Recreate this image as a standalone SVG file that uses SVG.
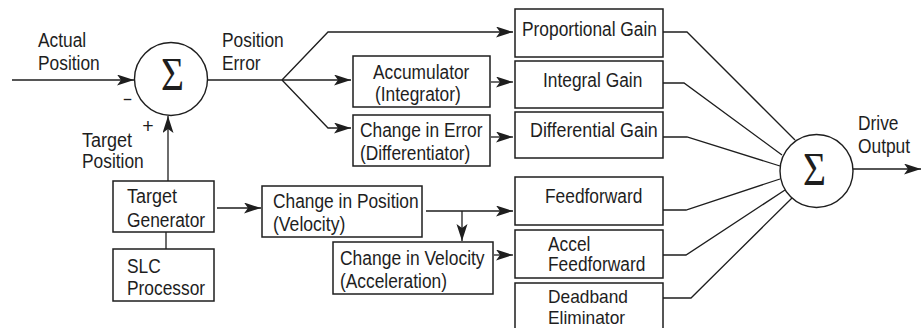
<svg xmlns="http://www.w3.org/2000/svg" width="922" height="328" viewBox="0 0 922 328">
<style>
  .bg { fill: #ffffff; }
  .box { fill: #ffffff; stroke: #1e1e1e; stroke-width: 1.5; }
  .sum { fill: #ffffff; stroke: #1e1e1e; stroke-width: 1.4; }
  .ln { fill: none; stroke: #1e1e1e; stroke-width: 1.3; }
  .arr { fill: none; stroke: #1e1e1e; stroke-width: 1.3; marker-end: url(#ah); }
  text { font-family: "Liberation Sans", Arial, sans-serif; font-size: 19.5px; fill: #1e1e1e; }
  .sm { font-size: 19px; }
  .sig { font-family: "Liberation Serif", "Times New Roman", serif; font-size: 46px; }
</style>
<defs>
  <marker id="ah" markerUnits="userSpaceOnUse" markerWidth="18" markerHeight="12" refX="17" refY="5.5" orient="auto">
    <path d="M0,0 L17,5.5 L0,11 L4,5.5 z" fill="#1e1e1e"/>
  </marker>
</defs>
<rect class="bg" x="0" y="0" width="922" height="328"/>

<g id="connectors">
  <path class="arr" d="M12,80 H134"/>
  <path class="ln" d="M207.5,80 H282"/>
  <path class="arr" d="M282,80 L328,32 H513"/>
  <path class="arr" d="M282,80 H351"/>
  <path class="arr" d="M282,80 L328,128 H351"/>
  <path class="arr" d="M491,82 H513"/>
  <path class="arr" d="M491,137 H513"/>
  <path class="arr" d="M168,181 V116"/>
  <path class="ln" d="M166,232 V249"/>
  <path class="arr" d="M217,208 H261"/>
  <path class="arr" d="M426,211 H513"/>
  <path class="arr" d="M462,211 V241"/>
  <path class="arr" d="M494,255 H513"/>
  <path class="ln" d="M663,32 H687 L795,140"/>
  <path class="ln" d="M663,83 H684 L782,155"/>
  <path class="ln" d="M663,137 H687 L780,166"/>
  <path class="ln" d="M663,210 H686 L780,179"/>
  <path class="ln" d="M663,255 H686 L785,190"/>
  <path class="ln" d="M663,298 H691 L792,198"/>
  <path class="arr" d="M853,169 H921"/>
</g>

<g id="label-actual-position">
  <text x="38" y="47" textLength="48.2" lengthAdjust="spacingAndGlyphs">Actual</text>
  <text x="38" y="70" textLength="61.7" lengthAdjust="spacingAndGlyphs">Position</text>
</g>
<g id="label-position-error">
  <text x="222" y="47" textLength="61.7" lengthAdjust="spacingAndGlyphs">Position</text>
  <text x="222" y="70" textLength="38.6" lengthAdjust="spacingAndGlyphs">Error</text>
</g>
<g id="label-target-position">
  <text x="82" y="147" textLength="50.1" lengthAdjust="spacingAndGlyphs">Target</text>
  <text x="82" y="168" textLength="61.7" lengthAdjust="spacingAndGlyphs">Position</text>
</g>
<g id="label-drive-output">
  <text x="858" y="130" textLength="40.5" lengthAdjust="spacingAndGlyphs">Drive</text>
  <text x="858" y="153" textLength="52.1" lengthAdjust="spacingAndGlyphs">Output</text>
</g>

<g id="sum1">
  <circle class="sum" cx="171" cy="79" r="36.5"/>
  <text class="sig" x="161" y="90" textLength="23" lengthAdjust="spacingAndGlyphs">Σ</text>
  <text x="123" y="106" textLength="9" lengthAdjust="spacingAndGlyphs">−</text>
  <text x="148" y="132.5" text-anchor="middle">+</text>
</g>

<g id="sum2">
  <circle class="sum" cx="816.5" cy="171" r="36.5"/>
  <text class="sig" x="803" y="185" textLength="23" lengthAdjust="spacingAndGlyphs">Σ</text>
</g>

<g id="proportional-gain">
  <rect class="box" x="515" y="9" width="148" height="48"/>
  <text x="522" y="36" textLength="135" lengthAdjust="spacingAndGlyphs">Proportional Gain</text>
</g>
<g id="integral-gain">
  <rect class="box" x="515" y="61" width="148" height="47"/>
  <text x="543" y="87" textLength="99.3" lengthAdjust="spacingAndGlyphs">Integral Gain</text>
</g>
<g id="differential-gain">
  <rect class="box" x="515" y="112" width="148" height="46"/>
  <text x="530" y="137" textLength="127.8" lengthAdjust="spacingAndGlyphs">Differential Gain</text>
</g>
<g id="accumulator">
  <rect class="box" x="353" y="56" width="137" height="51"/>
  <text x="373" y="79" textLength="96.4" lengthAdjust="spacingAndGlyphs">Accumulator</text>
  <text x="375" y="101" textLength="85.8" lengthAdjust="spacingAndGlyphs">(Integrator)</text>
</g>
<g id="change-in-error">
  <rect class="box" x="353" y="115" width="137" height="51"/>
  <text x="360" y="137" textLength="122.5" lengthAdjust="spacingAndGlyphs">Change in Error</text>
  <text x="360" y="160" textLength="110.3" lengthAdjust="spacingAndGlyphs">(Differentiator)</text>
</g>
<g id="target-generator">
  <rect class="box" x="113" y="181" width="101" height="51"/>
  <text x="127" y="203" textLength="50.1" lengthAdjust="spacingAndGlyphs">Target</text>
  <text x="127" y="227" textLength="78.1" lengthAdjust="spacingAndGlyphs">Generator</text>
</g>
<g id="slc-processor">
  <rect class="box" x="113" y="249" width="101" height="52"/>
  <text x="127" y="273" textLength="33.7" lengthAdjust="spacingAndGlyphs">SLC</text>
  <text x="127" y="295" textLength="78.1" lengthAdjust="spacingAndGlyphs">Processor</text>
</g>
<g id="change-in-position">
  <rect class="box" x="262" y="186" width="160" height="51"/>
  <text x="273" y="208" textLength="145.6" lengthAdjust="spacingAndGlyphs">Change in Position</text>
  <text x="273" y="231" textLength="72.3" lengthAdjust="spacingAndGlyphs">(Velocity)</text>
</g>
<g id="change-in-velocity">
  <rect class="box" x="333" y="242" width="160" height="52"/>
  <text x="340" y="265" textLength="144.6" lengthAdjust="spacingAndGlyphs">Change in Velocity</text>
  <text x="340" y="288" textLength="107" lengthAdjust="spacingAndGlyphs">(Acceleration)</text>
</g>
<g id="feedforward">
  <rect class="box" x="515" y="177" width="148" height="48"/>
  <text x="545" y="203" textLength="97.4" lengthAdjust="spacingAndGlyphs">Feedforward</text>
</g>
<g id="accel-feedforward">
  <rect class="box" x="515" y="230" width="148" height="48"/>
  <text x="548" y="251" textLength="42.4" lengthAdjust="spacingAndGlyphs">Accel</text>
  <text x="548" y="271" textLength="97.4" lengthAdjust="spacingAndGlyphs">Feedforward</text>
</g>
<g id="deadband-eliminator">
  <rect class="box" x="515" y="283" width="148" height="50"/>
  <text class="sm" x="548" y="302.5" textLength="80" lengthAdjust="spacingAndGlyphs">Deadband</text>
  <text class="sm" x="548" y="323.5" textLength="77.1" lengthAdjust="spacingAndGlyphs">Eliminator</text>
</g>
</svg>
